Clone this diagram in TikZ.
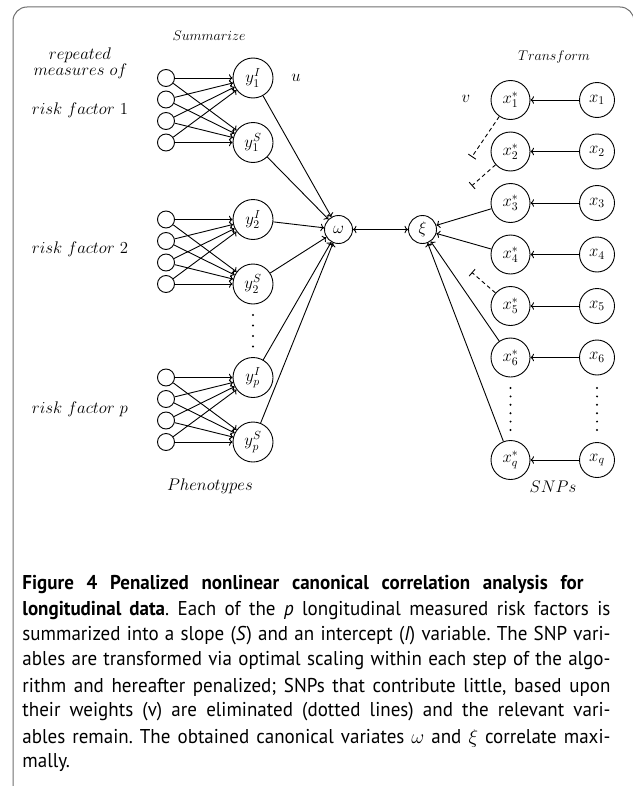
\RequirePackage{fix-cm}
\documentclass[tikz,border=0pt]{standalone}
\usepackage{fontspec}
\newfontfamily\capfont[FakeStretch=0.95]{PT Sans}
\usetikzlibrary{arrows.meta,calc}
\newcommand\bigsz{\fontsize{16.8bp}{16.8bp}\selectfont}
\newcommand\smsz{\fontsize{14bp}{14bp}\selectfont}
\newcommand\capsz{\fontsize{20bp}{24bp}\selectfont\frenchspacing}
\definecolor{framec}{RGB}{110,110,110}
\tikzset{
  inp/.style={circle,draw,minimum size=17bp,inner sep=0pt},
  ynode/.style={circle,draw,minimum size=40bp,inner sep=0pt,font=\bigsz},
  cvnode/.style={circle,draw,minimum size=28bp,inner sep=0pt,font=\bigsz},
  xsnode/.style={circle,draw,minimum size=39bp,inner sep=0pt,font=\bigsz},
  xnode/.style={circle,draw,minimum size=35bp,inner sep=0pt,font=\bigsz},
  lbl/.style={inner sep=0pt,font=\bigsz},
  smlbl/.style={inner sep=0pt,font=\smsz},
  capl/.style={anchor=west,inner sep=0pt,font=\capfont\capsz},
  elim/.style={dash pattern=on 4bp off 3bp,-{Bar[width=9bp]}},
  dotc/.style={fill=black}
}
\begin{document}
\begin{tikzpicture}[x=1bp,y=-1bp,line width=0.9bp]
\useasboundingbox (0,0) rectangle (633,786);
\draw[framec,line width=1bp,rounded corners=14bp] (13,7) rectangle (634,798);

% canonical variates
\node[cvnode] (om) at (338.5,229.5) {$\omega$};
\node[cvnode] (xi) at (422.5,229.5) {$\xi$};
\draw[<->] (om) -- (xi);

% phenotype groups
\foreach \g/\t in {1/78,2/219.5,p/377.5}{
  \node[ynode] (yI\g) at (253,\t) {$y_{\g}^{I}$};
  \node[ynode] (yS\g) at (253,\t+64.5) {$y_{\g}^{S}$};
  \foreach \k in {0,1,2,3}{
    \node[inp] (in\g\k) at (166,\t+\k*21.5) {};
    \draw[->] (in\g\k) -- (yI\g);
    \draw[->] (in\g\k) -- (yS\g);
  }
  \draw[->] (yI\g) -- (om);
  \draw[->] (yS\g) -- (om);
}
\foreach \d in {0,...,3} \fill[dotc] (253,315+\d*10.5) circle (1.1bp);

% SNPs
\foreach \i/\t in {1/100,2/151.5,3/203,4/254.5,5/306,6/357.5,q/460}{
  \node[xsnode] (xs\i) at (510.5,\t) {$x_{\i}^{*}$};
  \node[xnode] (x\i) at (597,\t) {$x_{\i}$};
  \draw[->] (x\i) -- (xs\i);
}
\foreach \i in {3,4,6,q} \draw[->] (xs\i) -- (xi);
\foreach \i in {1,2,5}{
  \coordinate (d\i) at ($(xs\i)!0.44!(xi)$);
  \draw[elim] (xs\i) -- (d\i);
}
\foreach \d in {0,...,5}{
  \fill[dotc] (510.5,388+\d*8.4) circle (1.1bp);
  \fill[dotc] (597,388+\d*8.4) circle (1.1bp);
}

% labels
\node[smlbl] (summ) at (209,36) {$Summarize$};
\node[smlbl] (trans) at (554,57) {$Transform$};
\node[lbl] (rep1) at (80,55.5) {$repeated$};
\node[lbl] (rep2) at (80.5,71) {$measures\ of$};
\node[lbl] (rf1) at (80,110) {$risk\ factor\ 1$};
\node[lbl] (rf2) at (80,249) {$risk\ factor\ 2$};
\node[lbl] (rfp) at (80,409) {$risk\ factor\ p$};
\node[lbl] (ulab) at (296,78) {$u$};
\node[lbl] (vlab) at (466,99) {$v$};
\node[lbl] (phen) at (210,486) {$Phenotypes$};
\node[lbl] (snps) at (553,487) {$SNPs$};

% caption
\node[capl] (c1) at (22,585) {\makebox[561bp][s]{\bfseries Figure 4 Penalized nonlinear canonical correlation analysis for}};
\node[capl] (c2) at (22,610.5) {\makebox[588bp][s]{\textbf{longitudinal data}. Each of the \textit{p} longitudinal measured risk factors is}};
\node[capl] (c3) at (22,636) {\makebox[588bp][s]{summarized into a slope (\textit{S}) and an intercept (\textit{I}) variable. The SNP vari-}};
\node[capl] (c4) at (22,661) {\makebox[588bp][s]{ables are transformed via optimal scaling within each step of the algo-}};
\node[capl] (c5) at (22,687) {\makebox[588bp][s]{rithm and hereafter penalized; SNPs that contribute little, based upon}};
\node[capl] (c6) at (22,712) {\makebox[588bp][s]{their weights (v) are eliminated (dotted lines) and the relevant vari-}};
\node[capl] (c7) at (22,738) {\makebox[588bp][s]{ables remain. The obtained canonical variates $\omega$ and $\xi$ correlate maxi-}};
\node[capl] (c8) at (22,763) {mally.};
\end{tikzpicture}
\end{document}
